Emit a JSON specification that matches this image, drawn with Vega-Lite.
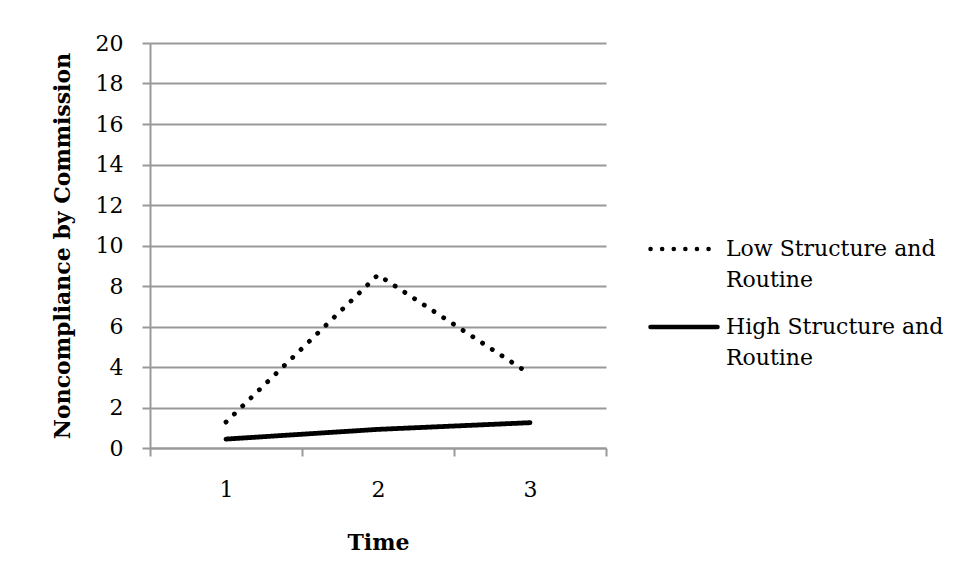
{
  "$schema": "https://vega.github.io/schema/vega-lite/v6.json",
  "autosize": "none",
  "width": 456,
  "height": 405,
  "padding": {"left": 150, "top": 43, "right": 352, "bottom": 136},
  "background": "white",
  "config": {
    "view": {"stroke": null}
  },
  "data": {
    "values": [
      {"time": 1, "series": "Low Structure and Routine", "value": 1.28},
      {"time": 2, "series": "Low Structure and Routine", "value": 8.55},
      {"time": 3, "series": "Low Structure and Routine", "value": 3.65},
      {"time": 1, "series": "High Structure and Routine", "value": 0.44},
      {"time": 2, "series": "High Structure and Routine", "value": 0.92},
      {"time": 3, "series": "High Structure and Routine", "value": 1.25}
    ]
  },
  "mark": {"type": "line", "strokeCap": "round", "strokeJoin": "round", "strokeWidth": 4.8},
  "encoding": {
    "x": {
      "field": "time",
      "type": "quantitative",
      "scale": {"domain": [0.5, 3.5], "nice": false, "zero": false},
      "axis": {
        "values": [0.5, 1, 1.5, 2, 2.5, 3, 3.5],
        "labelExpr": "datum.value % 1 == 0 ? '' + datum.value : ''",
        "tickOpacity": {"condition": {"test": "datum.value % 1 == 0", "value": 0}, "value": 1},
        "grid": false,
        "domainColor": "#999999",
        "domainWidth": 2,
        "tickColor": "#999999",
        "tickWidth": 2,
        "tickSize": 8,
        "labelPadding": 23,
        "labelFlush": false,
        "labelOverlap": false,
        "labelFont": "DejaVu Serif",
        "labelFontSize": 22,
        "labelColor": "black",
        "title": "Time",
        "titleFont": "DejaVu Serif",
        "titleFontSize": 22,
        "titleFontWeight": "bold",
        "titleColor": "black",
        "titlePadding": 32
      }
    },
    "y": {
      "field": "value",
      "type": "quantitative",
      "scale": {"domain": [0, 20], "nice": false},
      "axis": {
        "values": [0, 2, 4, 6, 8, 10, 12, 14, 16, 18, 20],
        "grid": true,
        "gridColor": "#999999",
        "gridWidth": 2,
        "domainColor": "#999999",
        "domainWidth": 2,
        "tickColor": "#999999",
        "tickWidth": 2,
        "tickSize": 8,
        "labelPadding": 19,
        "labelFont": "DejaVu Serif",
        "labelFontSize": 22,
        "labelColor": "black",
        "title": "Noncompliance by Commission",
        "titleFont": "DejaVu Serif",
        "titleFontSize": 22,
        "titleFontWeight": "bold",
        "titleColor": "black",
        "titlePadding": 21
      }
    },
    "strokeDash": {
      "field": "series",
      "type": "nominal",
      "scale": {
        "domain": ["Low Structure and Routine", "High Structure and Routine"],
        "range": [[0.1, 11.5], [1, 0]]
      },
      "legend": {
        "orient": "none",
        "legendX": 498,
        "legendY": 170,
        "title": null,
        "symbolType": "stroke",
        "symbolSize": 4489,
        "symbolStrokeWidth": 4.5,
        "symbolStrokeColor": "black",
        "labelOffset": 6,
        "labelFont": "DejaVu Serif",
        "labelFontSize": 22,
        "labelColor": "black",
        "labelLimit": 400,
        "rowPadding": 0,
        "labelExpr": "datum.label == 'Low Structure and Routine' ? ['Low Structure and', 'Routine'] : ['High Structure and', 'Routine']",
        "encode": {
          "symbols": {"update": {"strokeCap": {"value": "round"}}},
          "labels": {"update": {"lineHeight": {"value": 31}}}
        }
      }
    },
    "color": {"value": "black"}
  }
}
